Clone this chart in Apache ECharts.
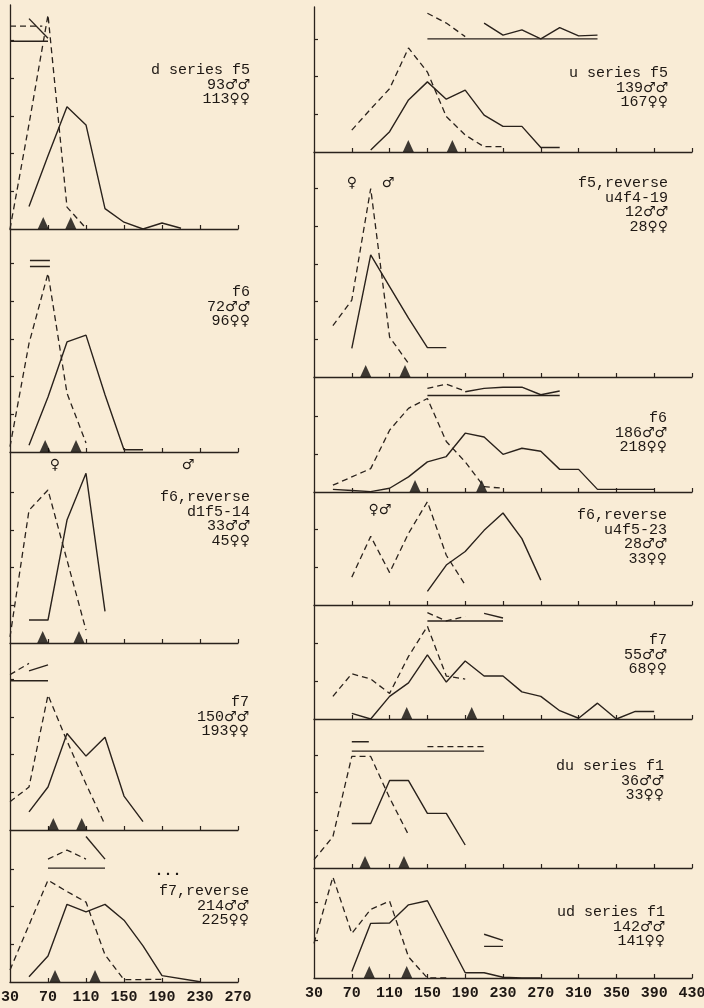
<!DOCTYPE html>
<html><head><meta charset="utf-8">
<script src="https://cdn.jsdelivr.net/npm/echarts@6/dist/echarts.min.js"></script>
<style>html,body{margin:0;padding:0;background:#f9ecd6;}#c{width:704px;height:1008px;}</style>
</head><body><div id="c"></div>
<script>
// ---------- tick labels ----------
const xLabelsLeft = [30, 70, 110, 150, 190, 230, 270];
const xLabelsRight = [30, 70, 110, 150, 190, 230, 270, 310, 350, 390, 430];
const yTickValues = [5, 10, 15, 20, 25];

// ---------- left column ----------
const L1_solid = [[50,3.0],[70,9.7],[90,16.2],[110,13.8],[130,2.7],[150,0.9],[170,0],[190,0.8],[210,0.1]];
const L1_dashed = [[30,0],[50,13.9],[70,28.4],[90,2.9],[110,0.1]];
const L1_topBase = [[30,24.9],[70,24.9]];
const L1_topSolid = [[50,27.9],[70,25.3]];
const L1_topDashed = [[30,26.9],[64,26.9]];
const L1_means = [65, 94];
const L1_text = ['d series f5', '93♂♂', '113♀♀'];

const L2_solid = [[50,0.9],[70,7.3],[90,14.6],[110,15.5],[130,7.6],[150,0.3],[170,0.3]];
const L2_dashed = [[30,0.7],[50,14.4],[70,23.7],[90,7.8],[110,1.2]];
const L2_topA = [[51,25.4],[72,25.4]];
const L2_topB = [[51,24.6],[72,24.6]];
const L2_means = [67, 99.5];
const L2_text = ['f6', '72♂♂', '96♀♀'];

const L3_solid = [[50,3.05],[70,3.05],[90,16.3],[110,22.5],[130,4.2]];
const L3_dashed = [[30,0.8],[50,17.6],[70,20.3],[90,11.0],[110,1.7]];
const L3_means = [64.4, 102.6];
const L3_text = ['f6,reverse', 'd1f5-14', '33♂♂', '45♀♀'];

const L4_solid = [[50,2.4],[70,5.7],[90,12.8],[110,9.8],[130,12.3],[150,4.5],[170,1.1]];
const L4_dashed = [[30,3.75],[50,5.7],[70,17.9],[90,11.8],[110,6.1],[130,0.7]];
const L4_topBase = [[30,19.8],[70,19.8]];
const L4_topSolid = [[50,21.1],[70,21.9]];
const L4_topDashed = [[30,20.6],[50,22.1]];
const L4_means = [75.6, 105.5];
const L4_text = ['f7', '150♂♂', '193♀♀'];

const L5_solid = [[50,0.7],[70,3.45],[90,10.3],[110,9.3],[130,10.3],[150,8.2],[170,4.8],[190,0.84],[230,0.04]];
const L5_dashed = [[30,1.6],[70,13.5],[90,12.0],[110,10.6],[130,3.6],[150,0.3],[190,0.36]];
const L5_topBase = [[70,15.1],[130,15.1]];
const L5_topSolid = [[110,19.3],[130,16.3]];
const L5_topDashed = [[70,16.3],[90,17.5],[110,16.3]];
const L5_means = [77.4, 119.5];
const L5_text = ['f7,reverse', '214♂♂', '225♀♀'];

// ---------- right column ----------
const R1_solid = [[90,0.27],[110,2.7],[130,6.9],[150,9.3],[170,7.0],[190,8.2],[210,4.9],[230,3.4],[250,3.4],[270,0.6],[290,0.6]];
const R1_dashed = [[70,2.9],[90,5.7],[110,8.4],[130,13.8],[150,10.6],[170,4.7],[190,2.25],[210,0.7],[230,0.7]];
const R1_topBase = [[150,15.0],[330,15.0]];
const R1_topSolid = [[210,17.1],[230,15.5],[250,16.2],[270,15.0],[290,16.5],[310,15.4],[330,15.5]];
const R1_topDashed = [[150,18.4],[170,17.1],[190,15.3]];
const R1_means = [129.8, 176.4];
const R1_text = ['u series f5', '139♂♂', '167♀♀'];

const R2_solid = [[70,3.8],[90,16.2],[110,12.0],[130,7.8],[150,3.9],[170,3.9]];
const R2_dashed = [[50,6.8],[70,10.2],[90,25.0],[110,5.3],[130,1.8]];
const R2_means = [84.7, 126.3];
const R2_text = ['f5,reverse', 'u4f4-19', '12♂♂', '28♀♀'];

const R3_solid = [[50,0.35],[70,0.2],[90,0.05],[110,0.5],[130,2.0],[150,4.0],[170,4.7],[190,7.8],[210,7.3],[230,5.0],[250,5.8],[270,5.4],[290,3.0],[310,3.0],[330,0.35],[390,0.35]];
const R3_dashed = [[50,0.9],[70,2.0],[90,3.1],[110,8.2],[130,11.1],[150,12.4],[170,6.7],[190,4.0],[210,0.7],[230,0.5]];
const R3_topBase = [[150,12.8],[290,12.8]];
const R3_topSolid = [[190,13.3],[210,13.75],[230,13.9],[250,13.9],[270,12.9],[290,13.4]];
const R3_topDashed = [[150,13.75],[170,14.3],[190,13.4]];
const R3_means = [136.9, 207.4];
const R3_text = ['f6', '186♂♂', '218♀♀'];

const R4_solid = [[150,1.8],[170,5.3],[190,7.1],[210,9.9],[230,12.2],[250,8.8],[270,3.3]];
const R4_dashed = [[70,3.7],[90,9.1],[110,4.3],[130,9.5],[150,13.7],[170,6.6],[190,2.65]];
const R4_means = [];
const R4_text = ['f6,reverse', 'u4f5-23', '28♂♂', '33♀♀'];

const R5_solid = [[70,0.75],[90,0],[110,3.0],[130,4.8],[150,8.5],[170,4.9],[190,7.7],[210,5.7],[230,5.7],[250,3.6],[270,3.0],[290,1.1],[310,0.1],[330,2.1],[350,0],[370,1.0],[390,1.0]];
const R5_dashed = [[50,3.0],[70,6.0],[90,5.3],[110,3.4],[130,8.3],[150,12.3],[170,5.7],[190,5.3]];
const R5_topBase = [[150,13.0],[230,13.0]];
const R5_topSolid = [[210,14.0],[230,13.4]];
const R5_topDashed = [[150,14.1],[170,13.0],[190,13.6]];
const R5_means = [128.1, 196.9];
const R5_text = ['f7', '55♂♂', '68♀♀'];

const R6_solid = [[70,5.9],[90,5.9],[110,11.6],[130,11.6],[150,7.25],[170,7.25],[190,3.05]];
const R6_dashed = [[30,1.1],[50,4.15],[70,14.8],[90,14.8],[110,9.3],[130,4.4]];
const R6_topBase = [[70,15.5],[210,15.5]];
const R6_topSolid = [[70,16.75],[88,16.75]];
const R6_topDashed = [[150,16.1],[210,16.1]];
const R6_means = [84, 125.2];
const R6_text = ['du series f1', '36♂♂', '33♀♀'];

const R7_solid = [[70,0.85],[90,7.25],[110,7.3],[130,9.7],[150,10.25],[190,0.7],[210,0.7],[230,0.1],[250,0],[270,0]];
const R7_dashed = [[30,4.6],[50,13.4],[70,5.9],[90,9.1],[110,10.2],[130,2.8],[150,0],[170,0]];
const R7_topA = [[210,5.8],[230,5.0]];
const R7_topB = [[210,4.2],[230,4.2]];
const R7_means = [88.5, 128.1];
const R7_text = ['ud series f1', '142♂♂', '141♀♀'];

// ---------- layout ----------
const INK = '#2a221c';
const PXU = 7.54; // pixels per y unit
const FONT = '"Liberation Mono", "DejaVu Sans Mono", monospace';
const COL = { L: { left: 10, width: 228, max: 270, labels: xLabelsLeft }, R: { left: 314, width: 378, max: 430, labels: xLabelsRight } };

const panels = [
  { c:'L', top:5,   base:229, s:L1_solid, d:L1_dashed, ts:[L1_topBase, L1_topSolid], td:[L1_topDashed], m:L1_means, t:L1_text, tx:250, ty:70 },
  { c:'L', top:229, base:452, s:L2_solid, d:L2_dashed, ts:[L2_topA, L2_topB], td:[], m:L2_means, t:L2_text, tx:250, ty:292 },
  { c:'L', top:452, base:643, s:L3_solid, d:L3_dashed, ts:[], td:[], m:L3_means, t:L3_text, tx:250, ty:497 },
  { c:'L', top:643, base:830, s:L4_solid, d:L4_dashed, ts:[L4_topBase, L4_topSolid], td:[L4_topDashed], m:L4_means, t:L4_text, tx:249, ty:702 },
  { c:'L', top:830, base:982, s:L5_solid, d:L5_dashed, ts:[L5_topBase, L5_topSolid], td:[L5_topDashed], m:L5_means, t:L5_text, tx:249, ty:891, bottom:true },
  { c:'R', top:7,   base:152, s:R1_solid, d:R1_dashed, ts:[R1_topBase, R1_topSolid], td:[R1_topDashed], m:R1_means, t:R1_text, tx:668, ty:73 },
  { c:'R', top:152, base:377, s:R2_solid, d:R2_dashed, ts:[], td:[], m:R2_means, t:R2_text, tx:668, ty:183 },
  { c:'R', top:377, base:492, s:R3_solid, d:R3_dashed, ts:[R3_topBase, R3_topSolid], td:[R3_topDashed], m:R3_means, t:R3_text, tx:667, ty:418 },
  { c:'R', top:492, base:605, s:R4_solid, d:R4_dashed, ts:[], td:[], m:R4_means, t:R4_text, tx:667, ty:515 },
  { c:'R', top:605, base:719, s:R5_solid, d:R5_dashed, ts:[R5_topBase, R5_topSolid], td:[R5_topDashed], m:R5_means, t:R5_text, tx:667, ty:640 },
  { c:'R', top:719, base:868, s:R6_solid, d:R6_dashed, ts:[R6_topBase, R6_topSolid], td:[R6_topDashed], m:R6_means, t:R6_text, tx:664, ty:766 },
  { c:'R', top:868, base:978, s:R7_solid, d:R7_dashed, ts:[R7_topA, R7_topB], td:[], m:R7_means, t:R7_text, tx:665, ty:912, bottom:true }
];

const grid = [], xAxis = [], yAxis = [], series = [], graphic = [];
const solidStyle = { color: INK, width: 1.4, type: 'solid' };
const dashStyle = { color: INK, width: 1.3, type: [6, 4] };
const TXT = '#1e1814';
const richStyles = {
  a: { font: '15px ' + FONT, fill: TXT, color: TXT, lineHeight: 14.6 },
  g: { fontSize: 14, fontFamily: '"DejaVu Sans", sans-serif', fontWeight: 'bold', fill: TXT, color: TXT, lineHeight: 14.6 }
};

function toRich(line) {
  const m = line.match(/^(.*?)([♂♀]+)$/);
  if (m) return '{a|' + m[1] + '}{g|' + m[2] + '}';
  return '{a|' + line + '}';
}

function lineSeries(i, data, style) {
  return { type: 'line', xAxisIndex: i, yAxisIndex: i, data: data, symbol: 'none', showSymbol: false,
    lineStyle: style, clip: false, silent: true, animation: false, z: 3 };
}

panels.forEach((p, i) => {
  const col = COL[p.c];
  const h = p.base - p.top;
  const ymax = h / PXU;
  grid.push({ left: col.left, width: col.width, top: p.top, height: h, containLabel: false, outerBoundsMode: 'none' });
  xAxis.push({ gridIndex: i, type: 'value', min: 30, max: col.max, interval: 40,
    axisLine: { show: true, onZero: false, lineStyle: { color: INK, width: 1.3 } },
    axisTick: { show: true, inside: true, length: 4, lineStyle: { color: INK, width: 1.2 }, customValues: col.labels.slice(1) },
    axisLabel: { show: !!p.bottom, color: TXT, fontFamily: FONT, fontSize: 15, fontWeight: 'bold', margin: 8, showMinLabel: true, showMaxLabel: true },
    splitLine: { show: false } });
  yAxis.push({ gridIndex: i, type: 'value', min: 0, max: ymax,
    axisLine: { show: true, onZero: false, lineStyle: { color: INK, width: 1.3 } },
    axisTick: { show: true, inside: true, length: 4, lineStyle: { color: INK, width: 1.2 }, customValues: yTickValues.filter(v => v < ymax - 1) },
    axisLabel: { show: false }, splitLine: { show: false } });
  series.push(lineSeries(i, p.s, solidStyle));
  series.push(lineSeries(i, p.d, dashStyle));
  p.ts.forEach(d => series.push(lineSeries(i, d, solidStyle)));
  p.td.forEach(d => series.push(lineSeries(i, d, dashStyle)));
  if (p.m.length) {
    series.push({ type: 'scatter', xAxisIndex: i, yAxisIndex: i, data: p.m.map(v => [v, 0]),
      symbol: 'triangle', symbolSize: [11, 12], symbolOffset: [0, -6], itemStyle: { color: '#0e0b09' },
      silent: true, animation: false, z: 4, clip: false });
  }
  graphic.push({ type: 'text', x: p.tx, y: p.ty - 7, silent: true,
    style: { text: p.t.map(toRich).join('\n'), rich: richStyles, font: '15px ' + FONT, fill: TXT,
      align: 'right', textAlign: 'right', verticalAlign: 'top', textVerticalAlign: 'top', lineHeight: 14.6 } });
});

// sex symbols & marks
const marks = [
  { s: '♀', x: 55, y: 465 }, { s: '♂', x: 188, y: 465 },
  { s: '♀', x: 352, y: 183 }, { s: '♂', x: 388, y: 183 },
  { s: '♀♂', x: 380, y: 510 }
];
marks.forEach(m => graphic.push({ type: 'text', x: m.x, y: m.y, silent: true,
  style: { text: m.s, font: 'bold 14px "DejaVu Sans", sans-serif', fill: TXT, align: 'center', textAlign: 'center',
    verticalAlign: 'middle', textVerticalAlign: 'middle' } }));
graphic.push({ type: 'text', x: 168, y: 871, silent: true,
  style: { text: '...', font: 'bold 15px ' + FONT, fill: TXT, align: 'center', textAlign: 'center',
    verticalAlign: 'middle', textVerticalAlign: 'middle' } });

const chart = echarts.init(document.getElementById('c'), null, { renderer: 'canvas', width: 704, height: 1008 });
chart.setOption({ backgroundColor: '#f9ecd6', animation: false, grid, xAxis, yAxis, series, graphic });
</script>
</body></html>
